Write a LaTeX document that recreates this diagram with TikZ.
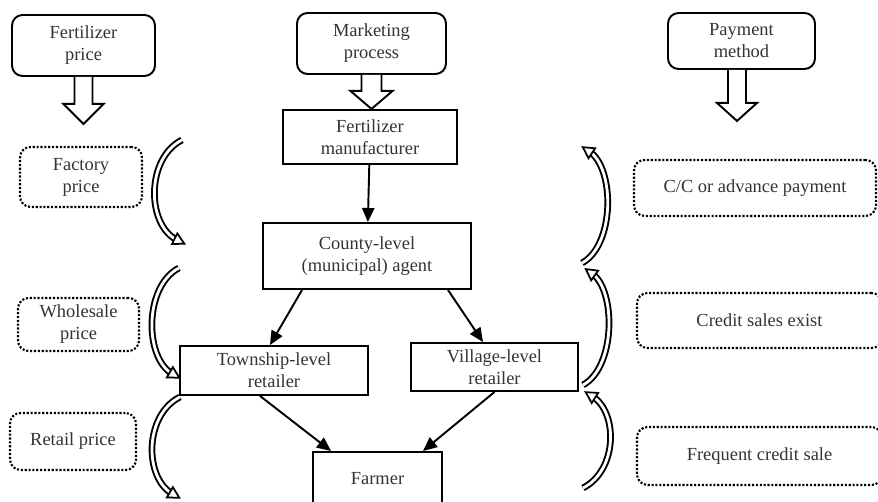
\documentclass[tikz,border=0pt]{standalone}
\usepackage{fontspec}
\setmainfont{Liberation Serif}
\usetikzlibrary{positioning,arrows.meta,decorations.markings}

\begin{document}
\begin{tikzpicture}
            [
                x=0.02cm, y=-0.02cm,
                every node/.style={font=\fontsize{10.5}{12.5}\selectfont, text=black!80, align=center, inner sep=0pt},
                topo/.style={draw, rounded corners=6pt, line width=1.1pt},
                etapa/.style={draw, line width=1.1pt},
                preco/.style={draw, densely dotted, rounded corners=6pt, line width=1.2pt},
                bloco/.style={draw, line width=1.1pt, line join=miter, fill=white},
                seta/.style={-{Triangle[length=8pt,width=7pt]}, line width=1.1pt},
                curva/.style={preaction={draw, double=white, double distance=1.6pt, line width=1.1pt, shorten >=3.5pt},
                    postaction={decorate, decoration={markings, mark=at position 0.995 with {
                        \draw[line width=1pt, line join=miter, fill=white]
                            (-5pt,-3.4pt) -- (1.2pt,0pt) -- (-5pt,3.4pt) -- cycle;}}}},
            ]
            \useasboundingbox (0,0) rectangle (878,502);
            \clip (0,0) rectangle (878,502);
            % cabecalhos
            \node[topo, minimum width=2.86cm, minimum height=1.22cm] (fp) at (83.5,45.5) {Fertilizer\\price};
            \node[topo, minimum width=2.98cm, minimum height=1.22cm] (mp) at (371.5,43.5) {Marketing\\process};
            \node[topo, minimum width=2.94cm, minimum height=1.12cm] (pm) at (741.5,41) {Payment\\method};
            \draw[bloco] ([xshift=-0.18cm]fp.south) -- ++(0,27) -- ++(-11,0) -- ++(20,20) -- ++(20,-20) -- ++(-11,0) -- ++(0,-27);
            \draw[bloco] ([xshift=-0.2cm]mp.south) -- ++(0,16) -- ++(-11,0) -- ++(21,18) -- ++(21,-18) -- ++(-11,0) -- ++(0,-16);
            \draw[bloco] ([xshift=-0.27cm]pm.south) -- ++(0,33) -- ++(-11,0) -- ++(20,18) -- ++(20,-18) -- ++(-11,0) -- ++(0,-33);
            % cadeia de comercializacao
            \node[etapa, minimum width=3.48cm, minimum height=1.08cm] (fab) at (370,137) {Fertilizer\\manufacturer};
            \node[etapa, minimum width=4.16cm, minimum height=1.32cm] (cond) at (367,256) {County-level\\(municipal) agent};
            \node[etapa, minimum width=3.76cm, minimum height=0.98cm] (mun) at (274,370.5) {Township-level\\retailer};
            \node[etapa, minimum width=3.34cm, minimum height=0.96cm] (vil) at (494.5,367) {Village-level\\retailer};
            \node[etapa, minimum width=2.58cm, minimum height=1.08cm] (agr) at (377.5,479) {Farmer};
            \draw[seta] (fab) -- (cond);
            \draw[seta] ([xshift=0.8cm]cond.south west) -- ([xshift=-0.08cm]mun.north);
            \draw[seta] ([xshift=-0.48cm]cond.south east) -- ([xshift=-0.23cm]vil.north);
            \draw[seta] ([xshift=-0.28cm]mun.south) -- ([xshift=0.38cm]agr.north west);
            \draw[seta] (vil.south) -- ([xshift=-0.4cm]agr.north east);
            % precos
            \node[preco, minimum width=2.44cm, minimum height=1.2cm] (pfab) at (81,177) {Factory\\price};
            \node[preco, minimum width=2.42cm, minimum height=1.06cm] (patac) at (78.5,324.5) {Wholesale\\price};
            \node[preco, minimum width=2.52cm, minimum height=1.14cm] (pvar) at (73,441.5) {Retail price};
            \path[curva] (182,140) .. controls (146,158) and (146,225) .. (183,243);
            \path[curva] (179,268) .. controls (144,286) and (144,358) .. (178,377);
            \path[curva] (180,397) .. controls (144,415) and (144,478) .. (178,497);
            % pagamento
            \node[preco, minimum width=4.84cm, minimum height=1.12cm] (pag1) at (755,188) {C/C or advance payment};
            \node[preco, minimum width=4.9cm, minimum height=1.1cm] (pag2) at (759.5,320.5) {Credit sales exist};
            \node[preco, minimum width=4.9cm, minimum height=1.16cm] (pag3) at (759.5,456) {Frequent credit sale};
            \path[curva] (582,263) .. controls (615,245) and (615,168) .. (584,148);
            \path[curva] (583,385) .. controls (616,367) and (616,290) .. (587,270);
            \path[curva] (583,488) .. controls (618,470) and (618,412) .. (587,393);
        \end{tikzpicture}
\end{document}
